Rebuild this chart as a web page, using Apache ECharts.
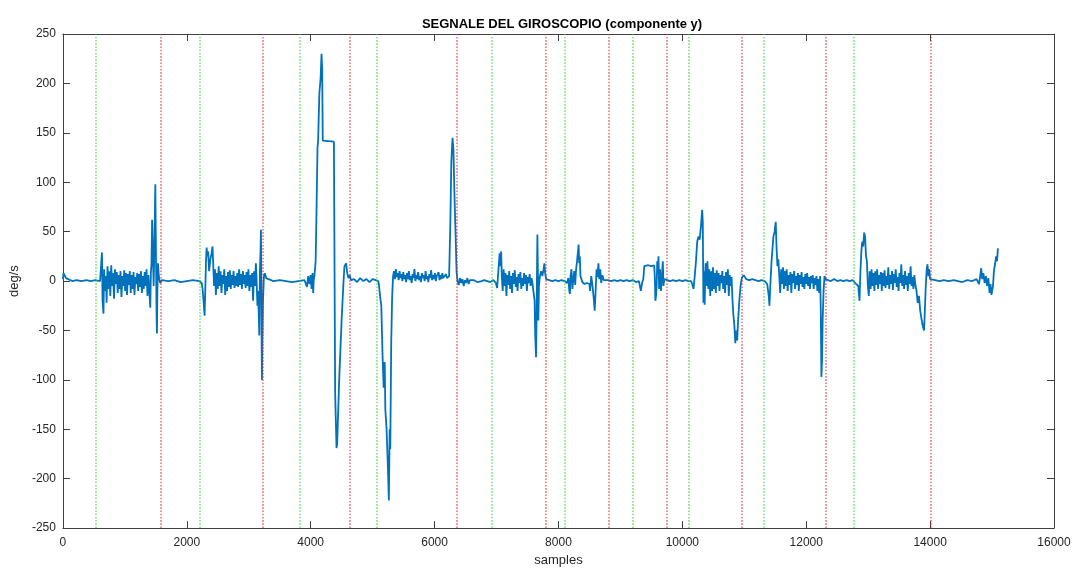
<!DOCTYPE html>
<html>
<head>
<meta charset="utf-8">
<title>SEGNALE DEL GIROSCOPIO</title>
<script src="https://cdn.jsdelivr.net/npm/echarts@6/dist/echarts.min.js"></script>
<style>
  html, body { margin: 0; padding: 0; background: #fff; }
  #chart { width: 1075px; height: 572px; }
</style>
</head>
<body>
<div id="chart"></div>
<script>
// tick values of the axes
var xTicks = [0, 2000, 4000, 6000, 8000, 10000, 12000, 14000, 16000];
var yTicks = [-250, -200, -150, -100, -50, 0, 50, 100, 150, 200, 250];

// sample index of the dotted markers (green = start, red = end)
var greenLines = [526, 2211, 3817, 5064, 6920, 8094, 9197, 10106, 11315, 12767];
var redLines = [1579, 3224, 4632, 6355, 7789, 8815, 9752, 10955, 12313, 14014];

// gyroscope y component, [sample, deg/s]
var gyroY = [
  [0,2],[10,8],[30,7],[50,3],[80,1],[150,0],[220,1],[300,0],[380,1],[450,0],[520,1],[600,0],
  [617,2],[630,29],[640,-20],[655,-33],[665,12],[680,-10],[695,5],[705,-22],[720,15],[735,-8],[750,10],[765,-15],
  [780,16],[795,-5],[810,8],[825,-18],[840,12],[855,-3],[870,9],[885,-12],[900,6],[915,-8],[930,10],[945,-16],
  [960,5],[975,-5],[990,11],[1005,-10],[1020,8],[1035,-14],[1050,7],[1065,-4],[1080,10],[1095,-12],[1110,6],
  [1125,-8],[1140,9],[1155,-14],[1170,4],[1185,-3],[1200,8],[1215,-10],[1230,7],[1245,-6],[1260,10],[1275,-12],
  [1290,5],[1305,-8],[1320,9],[1335,-5],[1350,12],[1365,-15],[1380,6],[1395,-10],[1410,-27],[1420,8],[1430,18],
  [1440,62],[1448,40],[1455,20],[1465,-5],[1475,30],[1485,70],[1492,98],[1498,55],[1505,10],[1512,-35],[1518,-53],
  [1525,-10],[1535,18],[1545,8],[1555,2],[1570,-2],
  [1600,1],[1700,0],[1800,1],[1900,-1],[2000,0],[2100,1],[2200,0],[2240,-2],
  [2255,-8],[2270,-20],[2287,-35],[2300,-5],[2310,20],[2320,34],[2330,25],[2345,30],[2360,10],[2380,22],[2400,28],
  [2415,35],[2425,20],[2440,-5],[2455,12],[2470,-14],[2485,8],[2500,-8],[2515,15],[2530,-5],[2545,10],[2560,-12],
  [2575,6],[2590,-3],[2605,12],[2620,-14],[2635,5],[2650,-10],[2665,9],[2680,-6],[2695,11],[2710,-8],[2725,6],
  [2740,-4],[2755,10],[2770,-7],[2785,5],[2800,-5],[2815,8],[2830,-6],[2845,12],[2860,-4],[2875,7],[2890,-8],
  [2905,10],[2920,-3],[2935,6],[2950,-7],[2965,9],[2980,-5],[2995,12],[3010,-10],[3025,6],[3040,-6],[3055,8],
  [3070,-20],[3085,10],[3100,-5],[3115,18],[3125,5],[3140,-25],[3150,-10],[3160,-30],[3170,-55],[3180,10],
  [3190,30],[3197,52],[3203,0],[3208,-60],[3213,-100],[3220,-60],[3230,-20],[3245,5],[3260,8],[3280,3],[3300,1],
  [3400,0],[3500,1],[3600,0],[3700,-1],[3800,0],[3900,1],[3940,-6],[3960,5],[3980,-3],[4000,6],[4015,-8],
  [4030,8],[4040,-12],[4050,2],
  [4060,5],[4080,20],[4095,75],[4110,135],[4120,142],[4140,190],[4160,205],[4175,230],[4185,215],[4195,142],
  [4200,141],[4375,141],[4388,140],[4395,-114],[4417,-169],[4427,-165],[4460,-100],[4499,-40],[4526,-5],
  [4545,15],[4573,18],[4590,8],[4610,3],[4630,6],[4650,1],
  [4700,2],[4750,-1],[4800,3],[4850,0],[4900,2],[4950,-1],[5000,2],[5050,1],[5090,0],
  [5100,-3],[5120,-15],[5140,-25],[5160,-75],[5178,-108],[5185,-85],[5195,-82],[5205,-130],[5225,-150],
  [5245,-185],[5262,-222],[5275,-150],[5285,-170],[5300,-63],[5315,-16],[5330,5],
  [5345,10],[5360,2],[5375,12],[5390,4],[5405,8],[5420,1],[5435,10],[5450,3],[5465,7],[5480,0],[5495,9],
  [5510,2],[5525,6],[5540,-1],[5555,8],[5570,2],[5585,10],[5600,1],[5615,5],[5630,-2],[5645,7],[5660,3],
  [5675,12],[5690,0],[5705,6],[5720,2],[5735,9],[5750,1],[5765,5],[5780,-1],[5795,8],[5810,3],[5825,6],
  [5840,0],[5855,10],[5870,2],[5885,5],[5900,-1],[5915,7],[5930,3],[5945,11],[5960,1],[5975,6],[5990,2],
  [6005,8],[6020,0],[6035,5],[6050,3],[6065,9],[6080,1],[6095,6],[6110,2],[6125,8],[6140,3],[6155,5],
  [6170,1],[6185,7],[6200,3],[6215,5],[6235,5],
  [6255,60],[6270,120],[6290,145],[6305,132],[6320,90],[6340,45],[6355,10],[6370,0],
  [6390,-4],[6410,3],[6430,-2],[6450,2],[6470,-5],[6490,1],[6510,-2],[6530,3],[6550,-3],[6570,1],[6600,-1],
  [6630,1],[6660,0],[6690,-1],[6720,1],[6760,0],[6800,1],[6850,0],[6900,-1],[6950,1],[6990,-2],
  [7010,-7],[7030,10],[7050,28],[7060,15],[7075,30],[7085,5],[7100,-10],[7115,12],[7130,-5],[7145,8],
  [7160,-15],[7175,6],[7190,-4],[7205,10],[7220,-8],[7235,5],[7250,-12],[7265,8],[7280,-3],[7295,11],
  [7310,-6],[7325,4],[7340,-10],[7355,7],[7370,-2],[7385,9],[7400,-8],[7415,3],[7430,-5],[7445,8],
  [7460,-3],[7475,6],[7490,-10],[7505,4],[7520,-2],[7535,7],[7550,-5],[7565,3],[7580,-2],[7600,0],
  [7615,-20],[7625,-55],[7638,-77],[7648,-30],[7655,20],[7660,47],[7668,10],[7675,-40],[7685,-5],[7700,5],
  [7720,10],[7740,5],[7760,12],[7773,18],[7785,8],[7800,2],
  [7850,1],[7900,0],[7950,1],[8000,0],[8050,1],[8100,0],[8140,-2],
  [8160,3],[8175,-10],[8185,-13],[8195,5],[8210,12],[8225,-8],[8240,2],[8255,10],[8270,-4],[8285,12],
  [8300,20],[8315,30],[8325,37],[8335,18],[8345,25],[8355,5],[8370,2],[8385,-1],
  [8420,-3],[8460,-2],[8500,-3],[8510,-10],[8530,5],[8550,-5],[8570,-18],[8585,-30],[8600,-10],[8615,12],
  [8630,4],[8645,18],[8660,2],[8675,12],[8690,-2],[8710,6],[8730,1],[8750,3],
  [8800,1],[8850,0],[8900,1],[8950,0],[9000,1],[9050,0],[9100,1],[9150,0],[9200,1],[9250,-1],[9300,0],
  [9330,-10],[9350,-2],[9370,2],
  [9385,15],[9400,16],[9450,16],[9500,15],[9545,16],[9555,5],[9565,-20],[9575,-15],[9585,-5],[9595,20],
  [9605,8],[9615,25],[9625,-8],[9640,12],[9655,-10],[9670,5],[9685,20],[9695,-5],[9710,2],[9730,0],
  [9760,1],[9800,0],[9850,1],[9900,0],[9950,1],[10000,0],[10050,1],[10100,0],[10125,-2],
  [10140,0],[10160,-3],[10180,-8],[10200,5],[10220,20],[10240,40],[10260,45],[10280,42],[10300,55],
  [10320,72],[10330,60],[10340,-22],[10350,10],[10360,-24],[10375,18],[10390,-5],[10405,20],[10420,-8],
  [10435,12],[10450,-15],[10465,10],[10480,-10],[10495,14],[10510,-8],[10525,8],[10540,-12],[10555,11],
  [10570,-5],[10585,8],[10600,-10],[10615,6],[10630,-2],[10645,10],[10660,-8],[10675,5],[10690,-12],
  [10705,9],[10720,-4],[10735,12],[10750,-15],[10765,6],[10780,-5],[10795,4],[10810,-20],[10825,-35],
  [10840,-45],[10855,-63],[10870,-50],[10885,-60],[10900,-40],[10920,-20],[10940,-5],[10960,3],[10990,6],
  [11030,2],[11080,1],[11130,2],[11180,1],[11230,0],[11280,1],[11330,0],[11370,-3],
  [11395,-15],[11406,-25],[11420,-5],[11440,20],[11470,45],[11490,50],[11508,60],[11520,35],[11535,15],
  [11550,22],[11565,5],[11580,-12],[11595,12],[11610,-3],[11625,14],[11640,-8],[11655,10],[11670,-5],
  [11685,12],[11700,-10],[11715,6],[11730,-4],[11745,9],[11760,-12],[11775,7],[11790,-2],[11805,10],
  [11820,-8],[11835,5],[11850,-4],[11865,8],[11880,-10],[11895,6],[11910,-3],[11925,9],[11940,-6],
  [11955,4],[11970,-8],[11985,7],[12000,-3],[12015,8],[12030,-5],[12045,4],[12060,-8],[12075,5],
  [12090,-2],[12105,6],[12120,-8],[12135,3],[12150,-4],[12165,5],[12180,-10],[12195,2],[12210,-12],
  [12225,5],[12235,-30],[12245,-97],[12255,-80],[12265,-40],[12280,-10],[12295,5],[12310,2],
  [12350,1],[12400,0],[12450,2],[12500,0],[12550,1],[12600,0],[12650,1],[12700,0],[12750,1],[12790,-2],
  [12840,-5],[12860,-20],[12875,10],[12890,30],[12905,40],[12920,35],[12935,49],[12950,45],[12965,25],
  [12980,20],[12995,-5],[13010,-15],[13025,10],[13040,-8],[13055,12],[13070,-5],[13085,8],[13100,-10],
  [13115,10],[13130,-4],[13145,12],[13160,-8],[13175,6],[13190,-3],[13205,9],[13220,-10],[13235,8],
  [13250,-5],[13265,11],[13280,-7],[13295,5],[13310,-4],[13325,14],[13340,-8],[13355,6],[13370,-3],
  [13385,10],[13400,-9],[13415,7],[13430,-2],[13445,12],[13460,-6],[13475,4],[13490,-10],[13505,8],
  [13520,-2],[13535,17],[13550,-5],[13565,6],[13580,-8],[13595,10],[13610,-4],[13625,5],[13640,-10],
  [13655,8],[13670,-3],[13685,15],[13700,-5],[13715,4],[13730,-8],[13745,6],[13760,-3],[13780,-10],
  [13800,-22],[13820,-15],[13840,-30],[13860,-38],[13880,-45],[13902,-50],[13915,-30],[13930,-5],
  [13945,12],[13958,17],[13972,5],[13985,12],[14000,2],[14030,0],
  [14080,1],[14150,0],[14220,1],[14300,0],[14380,1],[14450,0],[14520,-1],[14600,1],[14680,0],[14750,2],
  [14790,-3],[14810,6],[14825,13],[14840,2],[14860,8],[14880,-2],[14900,5],[14920,-5],[14940,3],
  [14960,-12],[14975,-3],[14990,-14],[15005,-14],[15015,-5],[15030,10],[15050,18],[15065,25],[15080,20],
  [15095,33]
];

var textColor = '#262626';
var boxColor = '#404040';

var chart = echarts.init(document.getElementById('chart'), null, { renderer: 'canvas' });

function boxAxis(extra) {
  var base = {
    type: 'value',
    axisLine: { show: true, onZero: false, lineStyle: { color: boxColor, width: 1 } },
    axisTick: { show: true, inside: true, length: 7, lineStyle: { color: boxColor } },
    splitLine: { show: false },
    axisLabel: { show: false }
  };
  return Object.assign(base, extra);
}

var markLineStyle = function (color) {
  return {
    silent: true,
    symbol: 'none',
    animation: false,
    label: { show: false },
    lineStyle: { color: color, type: 'dotted', width: 1.6 }
  };
};

var plainNumber = function (v) { return String(v); };

chart.setOption({
  animation: false,
  backgroundColor: '#fff',
  textStyle: { fontFamily: 'Liberation Sans, Arial, sans-serif' },
  title: {
    text: 'SEGNALE DEL GIROSCOPIO (componente y)',
    left: 557,
    textAlign: 'center',
    top: 13,
    textStyle: { fontSize: 13, fontWeight: 'bold', color: '#000' }
  },
  grid: { left: 60, right: 21, top: 34, bottom: 40 },
  xAxis: [
    boxAxis({
      position: 'bottom',
      min: xTicks[0], max: xTicks[xTicks.length - 1], interval: 2000,
      name: 'samples', nameLocation: 'middle', nameGap: 24,
      nameTextStyle: { fontSize: 13, color: textColor },
      axisLabel: { show: true, fontSize: 12, color: textColor, margin: 9, formatter: plainNumber }
    }),
    boxAxis({
      position: 'top',
      min: xTicks[0], max: xTicks[xTicks.length - 1], interval: 2000
    })
  ],
  yAxis: [
    boxAxis({
      position: 'left',
      min: yTicks[0], max: yTicks[yTicks.length - 1], interval: 50,
      name: 'deg/s', nameLocation: 'middle', nameGap: 36,
      nameTextStyle: { fontSize: 13, color: textColor },
      axisLabel: { show: true, fontSize: 12, color: textColor, margin: 7, formatter: plainNumber }
    }),
    boxAxis({
      position: 'right',
      min: yTicks[0], max: yTicks[yTicks.length - 1], interval: 50
    })
  ],
  series: [
    {
      name: 'gyro y',
      type: 'line',
      data: gyroY,
      showSymbol: false,
      sampling: 'none',
      lineStyle: { color: '#0072BD', width: 1.8 },
      itemStyle: { color: '#0072BD' },
      z: 2
    },
    {
      name: 'start',
      type: 'line',
      data: [],
      z: 3,
      markLine: Object.assign(markLineStyle('rgba(40,210,40,0.6)'), {
        data: greenLines.map(function (v) { return { xAxis: v }; })
      })
    },
    {
      name: 'end',
      type: 'line',
      data: [],
      z: 3,
      markLine: Object.assign(markLineStyle('rgba(215,30,40,0.6)'), {
        data: redLines.map(function (v) { return { xAxis: v }; })
      })
    }
  ]
});
</script>
</body>
</html>
